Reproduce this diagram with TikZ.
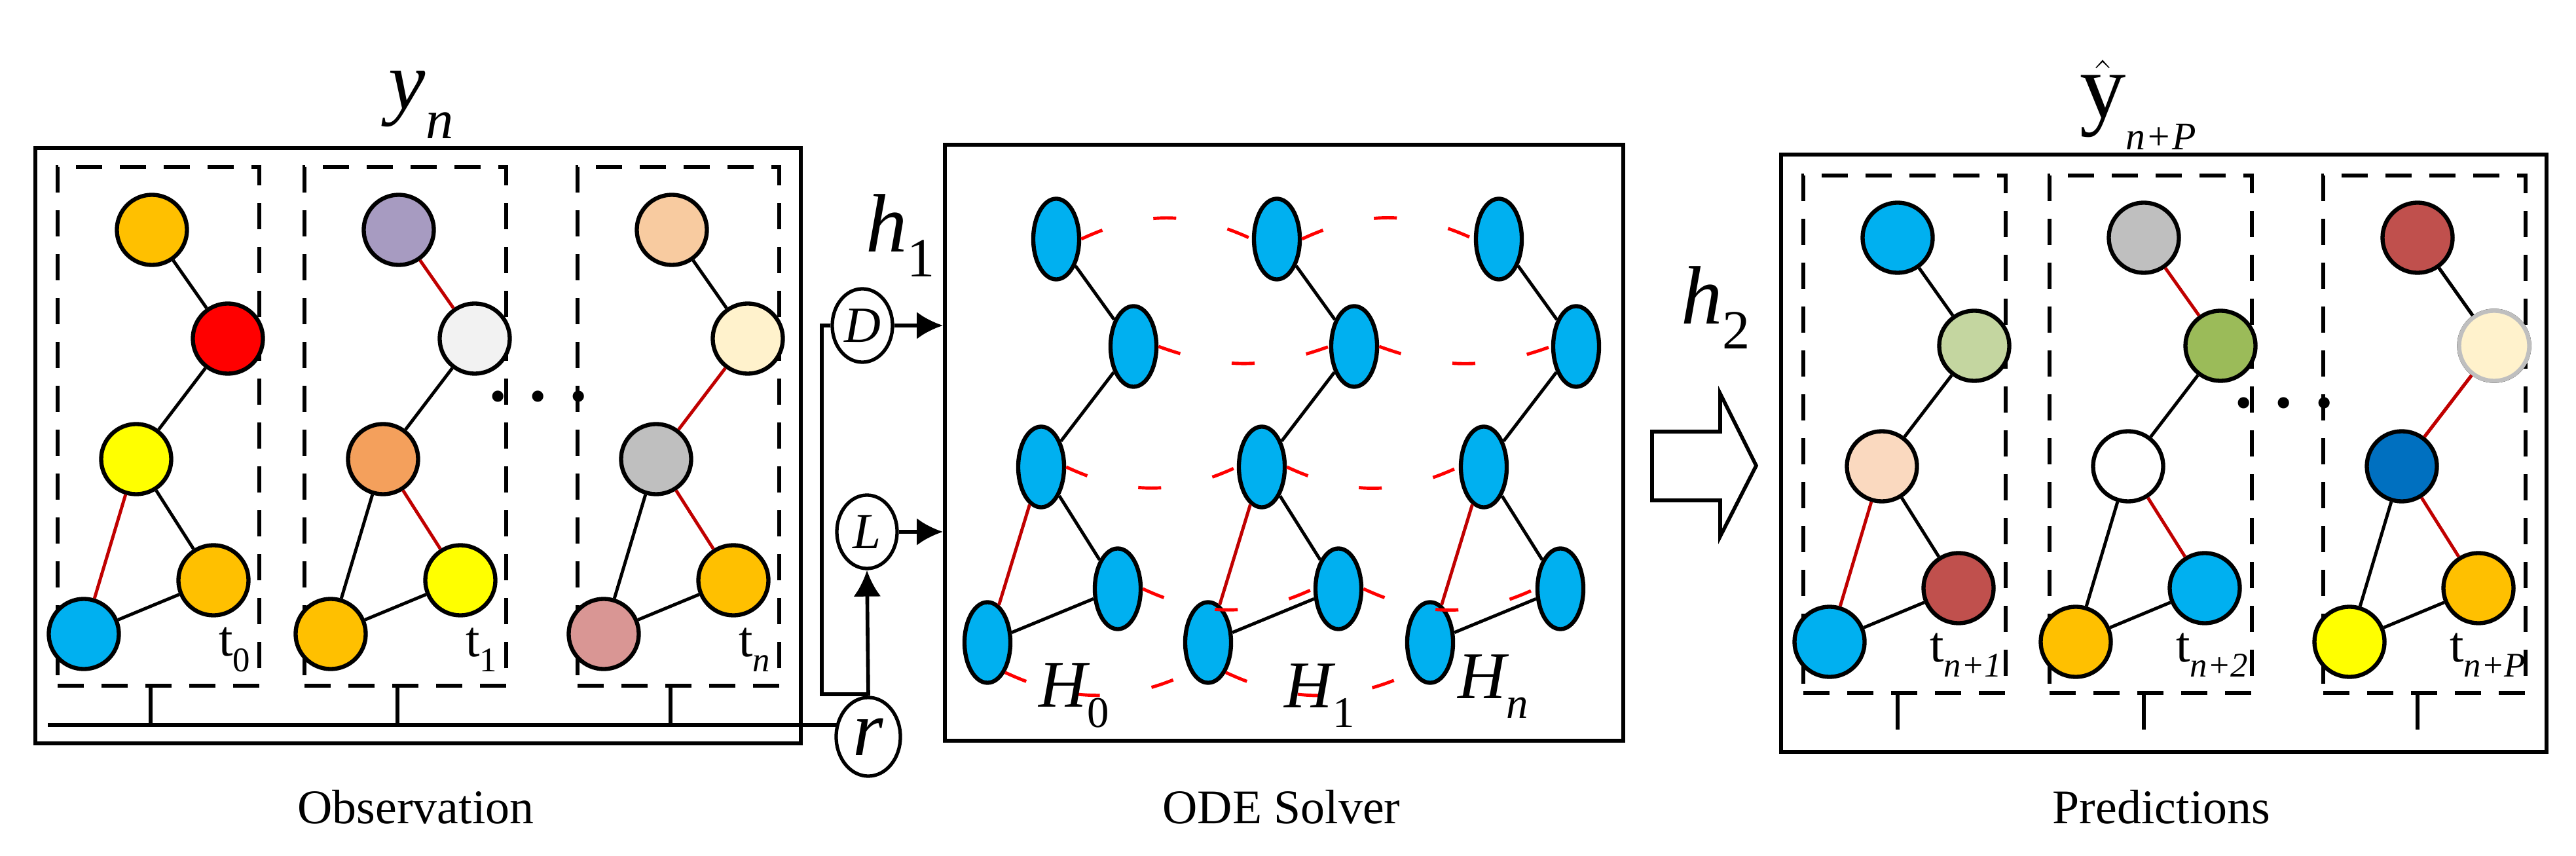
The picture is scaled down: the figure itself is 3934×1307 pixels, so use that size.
\documentclass[tikz,border=0pt]{standalone}
\usepackage{fontspec}
\setmainfont{Liberation Serif}
\usetikzlibrary{arrows.meta,shapes.geometric}
\definecolor{cOr}{HTML}{FFC000}
\definecolor{cYe}{HTML}{FFFF00}
\definecolor{cRe}{HTML}{FF0000}
\definecolor{cBl}{HTML}{00B0F0}
\definecolor{cPu}{HTML}{A79BC1}
\definecolor{cWg}{HTML}{F2F2F2}
\definecolor{cSa}{HTML}{F4A05C}
\definecolor{cPe}{HTML}{F8CBA0}
\definecolor{cCr}{HTML}{FFF2CC}
\definecolor{cGr}{HTML}{BFBFBF}
\definecolor{cRo}{HTML}{D99694}
\definecolor{cLg}{HTML}{C4D6A0}
\definecolor{cFl}{HTML}{FAD9BF}
\definecolor{cBr}{HTML}{C0504D}
\definecolor{cOl}{HTML}{9BBB59}
\definecolor{cDb}{HTML}{0070C0}
\definecolor{cEr}{HTML}{C00000}
\begin{document}
\begin{tikzpicture}[x=0.01cm,y=-0.01cm,
  gn/.style={circle,draw=black,line width=1.8pt,minimum size=1.07cm,inner sep=0pt},
  bn/.style={ellipse,draw=black,line width=1.8pt,fill=cBl,minimum width=0.7cm,minimum height=1.23cm,inner sep=0pt},
  ed/.style={line width=1.4pt},
  box/.style={draw=black,line width=1.8pt},
  pan/.style={draw=black,line width=1.6pt,dash pattern=on 0.4cm off 0.27cm},
  rd/.style={draw=red,line width=1.4pt,dash pattern=on 0.35cm off 0.8cm},
  ring/.style={ellipse,draw=black,line width=1.5pt,minimum width=0.92cm,minimum height=1.12cm,inner sep=0pt,font=\fontsize{22}{22}\selectfont\itshape},
  arr/.style={line width=1.6pt,-{Latex[length=0.4cm,width=0.42cm]}},
  lab/.style={font=\fontsize{21}{21}\selectfont},
  tl/.style={font=\fontsize{22}{22}\selectfont}
]
\useasboundingbox (0,0) rectangle (3934,1307);

% ---------- Observation ----------
\node[box,minimum width=11.68cm,minimum height=9.08cm,anchor=north west] (obox) at (51,223) {};
\node[font=\fontsize{36}{36}\selectfont\itshape] (yn) at (643,160) {y\raisebox{-0.35em}{\fontsize{24}{24}\selectfont n}};
\node[lab] (obs) at (635,1232) {Observation};

\foreach \k/\dx/\ca/\cb/\cc/\cd/\ce/\ea/\eb/\ec/\ed/\tt in {
  1/0/cOr/cRe/cYe/cOr/cBl/black/black/black/cEr/\raisebox{-0.3em}{\fontsize{15}{15}\selectfont 0},
  2/377/cPu/cWg/cSa/cYe/cOr/cEr/black/cEr/black/\raisebox{-0.3em}{\fontsize{15}{15}\selectfont 1},
  3/794/cPe/cCr/cGr/cOr/cRo/black/cEr/cEr/black/\raisebox{-0.3em}{\fontsize{15}{15}\selectfont\itshape n}}{
  \node[pan,minimum width=3.08cm,minimum height=7.92cm,anchor=north west] (op\k) at (85+\dx,252) {};
  \node[gn,fill=\ca] (o\k a) at (232+\dx,351) {};
  \node[gn,fill=\cb] (o\k b) at (348+\dx,517) {};
  \node[gn,fill=\cc] (o\k c) at (208+\dx,701) {};
  \node[gn,fill=\cd] (o\k d) at (326+\dx,886) {};
  \node[gn,fill=\ce] (o\k e) at (128+\dx,968) {};
  \draw[ed,\ea] (o\k a) -- (o\k b);
  \draw[ed,\eb] (o\k b) -- (o\k c);
  \draw[ed,\ec] (o\k c) -- (o\k d);
  \draw[ed,\ed] (o\k c) -- (o\k e);
  \draw[ed,black] (o\k e) -- (o\k d);
  \node[tl,anchor=west] (ot\k) at (322+\dx,992) {t\tt};
  \coordinate (otk\k) at (230+\dx,1044);
  \coordinate (otb\k) at (230+\dx,1107);
  \draw[line width=1.6pt] (otk\k) -- (otb\k);
}
\node[font=\fontsize{30}{30}\selectfont\bfseries] (odots) at (822,605) {. . .};

% ---------- D, L, r ----------
\node[ring] (D) at (1317,497) {D};
\node[ring] (L) at (1324,812) {L};
\node[ring,minimum width=0.98cm,minimum height=1.2cm,font=\fontsize{34}{34}\selectfont\itshape] (r) at (1326,1125) {r};
\node[font=\fontsize{36}{36}\selectfont\itshape] (h1) at (1375,360) {h\raisebox{-0.3em}{\fontsize{24}{24}\selectfont\upshape 1}};
\coordinate (bl0) at (73,1107);
\coordinate (bl1) at (1278,1107);
\draw[line width=1.6pt] (bl0) -- (bl1);
\coordinate (fb0) at (1255,1060);
\coordinate (fb1) at (1255,497);
\draw[line width=1.6pt] (r.north) -- (r.north |- fb0) -- (fb0) -- (fb1) -- (D.west);
\draw[arr] (r.north) -- (L.south);

% ---------- ODE Solver ----------
\node[box,minimum width=10.35cm,minimum height=9.09cm,anchor=north west] (ode) at (1440,218) {};
\node[lab] (odel) at (1957,1232) {ODE Solver};
\draw[arr] (D.east) -- (D.east -| ode.west);
\draw[arr] (L.east) -- (L.east -| ode.west);

\foreach \k/\dx in {0/0,1/337,2/676}{
  \node[bn] (h\k a) at (1613+\dx,365) {};
  \node[bn] (h\k b) at (1731+\dx,529) {};
  \node[bn] (h\k c) at (1590+\dx,713) {};
  \node[bn] (h\k d) at (1707+\dx,899) {};
  \node[bn] (h\k e) at (1508+\dx,981) {};
  \draw[ed] (h\k a) -- (h\k b);
  \draw[ed] (h\k b) -- (h\k c);
  \draw[ed] (h\k c) -- (h\k d);
  \draw[ed,cEr] (h\k c) -- (h\k e);
  \draw[ed] (h\k e) -- (h\k d);
}
\foreach \i/\j in {0/1,1/2}{
  \draw[rd] (h\i a.east) to[bend left=25] (h\j a.west);
  \draw[rd] (h\i b.east) to[bend right=20] (h\j b.west);
  \draw[rd] (h\i c.east) to[bend right=25] (h\j c.west);
  \draw[rd] (h\i d.east) to[bend right=25] (h\j d.west);
  \draw[rd] (h\i e.south east) to[bend right=25] (h\j e.south west);
}
\node[font=\fontsize{29}{29}\selectfont\itshape] (H0) at (1640,1062) {H\raisebox{-0.3em}{\fontsize{19}{19}\selectfont\upshape 0}};
\node[font=\fontsize{29}{29}\selectfont\itshape] (H1) at (2015,1062) {H\raisebox{-0.3em}{\fontsize{19}{19}\selectfont\upshape 1}};
\node[font=\fontsize{29}{29}\selectfont\itshape] (Hn) at (2280,1048) {H\raisebox{-0.3em}{\fontsize{19}{19}\selectfont n}};

% ---------- big arrow ----------
\node[font=\fontsize{36}{36}\selectfont\itshape] (h2) at (2620,470) {h\raisebox{-0.3em}{\fontsize{24}{24}\selectfont\upshape 2}};
\draw[line width=1.6pt,fill=white] (2523,659) -- (2627,659) -- (2627,601) -- (2682,711) -- (2627,819) -- (2627,764) -- (2523,764) -- cycle;

% ---------- Predictions ----------
\node[box,minimum width=11.68cm,minimum height=9.11cm,anchor=north west] (pbox) at (2717,233) {};
\node[font=\fontsize{40}{40}\selectfont] (yhat) at (3265,160) {$\hat{\textrm{y}}$\raisebox{-0.35em}{\fontsize{17}{17}\selectfont\itshape n+P}};
\node[lab] (pred) at (3301,1232) {Predictions};

\foreach \k/\dx/\ca/\cb/\cc/\cd/\ce/\ea/\eb/\ec/\ed/\tt in {
  1/0/cBl/cLg/cFl/cBr/cBl/black/black/black/cEr/{n+1},
  2/376/cGr/cOl/white/cBl/cOr/cEr/black/cEr/black/{n+2},
  3/794/cBr/cCr/cDb/cOr/cYe/black/cEr/cEr/black/{n+P}}{
  \node[pan,minimum width=3.09cm,minimum height=7.9cm,anchor=north west] (pp\k) at (2751+\dx,265) {};
  \node[gn,fill=\ca] (p\k a) at (2898+\dx,363) {};
  \node[gn,fill=\cb] (p\k b) at (3015+\dx,528) {};
  \node[gn,fill=\cc] (p\k c) at (2874+\dx,712) {};
  \node[gn,fill=\cd] (p\k d) at (2991+\dx,898) {};
  \node[gn,fill=\ce] (p\k e) at (2794+\dx,980) {};
  \draw[ed,\ea] (p\k a) -- (p\k b);
  \draw[ed,\eb] (p\k b) -- (p\k c);
  \draw[ed,\ec] (p\k c) -- (p\k d);
  \draw[ed,\ed] (p\k c) -- (p\k e);
  \draw[ed,black] (p\k e) -- (p\k d);
  \node[tl,anchor=west] (pt\k) at (2935+\dx,1000) {t\raisebox{-0.3em}{\fontsize{15}{15}\selectfont\itshape \tt}};
  \coordinate (ptk\k) at (2898+\dx,1058);
  \coordinate (ptb\k) at (2898+\dx,1114);
  \draw[line width=1.6pt] (ptk\k) -- (ptb\k);
}
\node[gn,fill=cCr,draw=cGr] (p3b2) at (3809,528) {};
\draw[ed] (p3a) -- (p3b2);
\draw[ed,cEr] (p3b2) -- (p3c);
\node[font=\fontsize{30}{30}\selectfont\bfseries] (pdots) at (3488,615) {. . .};
\end{tikzpicture}
\end{document}
